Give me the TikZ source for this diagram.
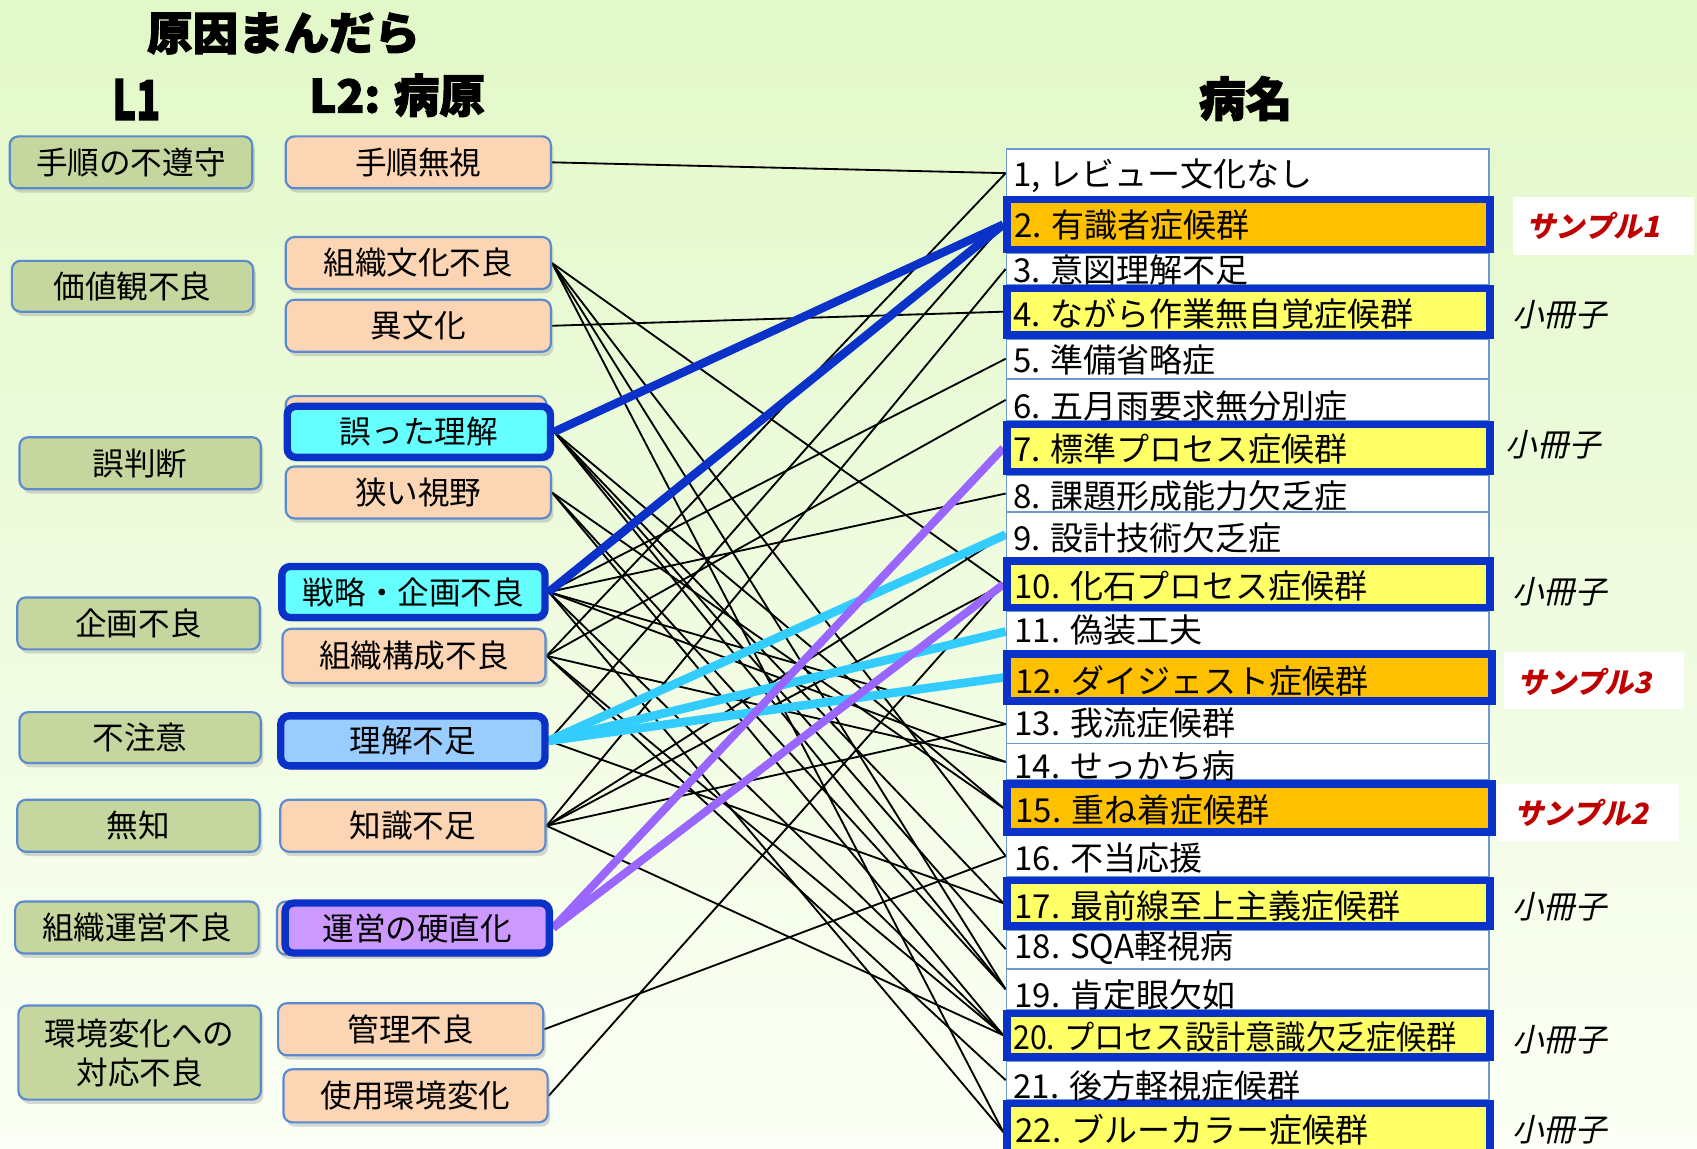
\documentclass[tikz,border=0pt]{standalone}
\usepackage{fontspec}
\usepackage{graphicx}
\setmainfont{Noto Sans CJK JP}
\newfontfamily\popfont[FakeBold=2.5]{Noto Sans CJK JP}
\newfontfamily\slfont[FakeSlant=0.22]{Noto Sans CJK JP}
\usetikzlibrary{shadows}
\pgfdeclarelayer{back}
\pgfdeclarelayer{lines}
\pgfsetlayers{back,lines,main}
\definecolor{bgtop}{HTML}{E2F8C8}
\definecolor{bgbot}{HTML}{FBFFF5}
\definecolor{lonefill}{HTML}{C5D69E}
\definecolor{peach}{HTML}{FCD5B4}
\definecolor{thinblue}{HTML}{5B8ACD}
\definecolor{hotblue}{HTML}{0A32C8}
\definecolor{cyanfill}{HTML}{66FFFF}
\definecolor{lbluefill}{HTML}{99CCFF}
\definecolor{purpfill}{HTML}{CC99FF}
\definecolor{orangefill}{HTML}{FFC000}
\definecolor{yellowfill}{HTML}{FFFF66}
\definecolor{rowline}{HTML}{7098D0}
\definecolor{cyanline}{HTML}{33CCFF}
\definecolor{purpline}{HTML}{9966FF}
\definecolor{sampred}{HTML}{C00000}
\newcommand{\boxfont}{\fontsize{14.6pt}{18pt}\selectfont}
\newcommand{\rowfont}{\fontsize{15.25pt}{18pt}\selectfont}
\newcommand{\rbox}[7]{\node[#1,minimum width={(#5-#3)*0.5pt},minimum height={(#6-#4)*0.5pt}] (#2) at ({(#3+#5)/2},{(#4+#6)/2}) {#7};}
\newcommand{\tbox}[7]{\node[#1,minimum width={(#5-#3-6.8)*0.5pt},minimum height={(#6-#4-6.8)*0.5pt}] (#2) at ({(#3+#5)/2},{(#4+#6)/2}) {#7};}
\tikzset{
  basebox/.style={inner sep=0pt, align=center, rounded corners=4pt, font=\boxfont,
    drop shadow={shadow xshift=1.2pt, shadow yshift=-2pt, opacity=0.3}},
  lone/.style={basebox, fill=lonefill, draw=thinblue, line width=1pt},
  ltwo/.style={basebox, fill=peach, draw=thinblue, line width=1pt},
  lhot/.style={basebox, draw=hotblue, line width=3.4pt},
  wrow/.style={inner sep=0pt, fill=white, draw=rowline, line width=0.8pt},
  orow/.style={inner sep=0pt, fill=orangefill, draw=hotblue, line width=3.4pt},
  yrow/.style={inner sep=0pt, fill=yellowfill, draw=hotblue, line width=3.4pt},
  rowtext/.style={anchor=west, inner sep=0pt, font=\rowfont},
  conn/.style={line width=0.85pt, black},
  bluelink/.style={line width=3.9pt, hotblue},
  cyanlink/.style={line width=4pt, cyanline},
  purplink/.style={line width=3.7pt, purpline},
  sampbox/.style={inner sep=0pt, fill=white},
  samptext/.style={anchor=west, inner sep=0pt, text=sampred, font=\slfont\bfseries\fontsize{13.5pt}{16pt}\selectfont},
  booklet/.style={anchor=west, inner sep=0pt, font=\slfont\fontsize{14.6pt}{16pt}\selectfont},
  headtext/.style={inner sep=0pt, font=\popfont\bfseries\fontsize{21pt}{24pt}\selectfont}
}
\begin{document}
\begin{tikzpicture}[x=0.5pt,y=-0.5pt]
\useasboundingbox (0,0) rectangle (1568,1061);
\begin{pgfonlayer}{back}
\shade[top color=bgtop,bottom color=bgbot] (0,0) rectangle (1568,1061);
\end{pgfonlayer}

% headings
\node[headtext] (title) at (262,31) {原因まんだら};
\node[headtext,font=\popfont\bfseries\fontsize{23pt}{26pt}\selectfont] (hlone) at (126,92) {\scalebox{0.8}[1.1]{L1}};
\node[headtext,font=\popfont\bfseries\fontsize{21pt}{24pt}\selectfont] (hltwo) at (367,88) {L2: 病原};
\node[headtext,font=\popfont\bfseries\fontsize{21.5pt}{24pt}\selectfont] (hname) at (1151,91) {病名};

% L1 boxes
\rbox{lone}{a1}{9}{126}{233}{174}{手順の不遵守}
\rbox{lone}{a2}{11}{241}{234}{288}{価値観不良}
\rbox{lone}{a3}{18}{404}{241}{452}{誤判断}
\rbox{lone}{a4}{16}{552}{240}{600}{企画不良}
\rbox{lone}{a5}{18}{658}{241}{705}{不注意}
\rbox{lone}{a6}{16}{739}{240}{787}{無知}
\rbox{lone}{a7}{14}{833}{239}{881}{組織運営不良}
\rbox{lone}{a8}{17}{929}{241}{1016}{環境変化への\\対応不良}

% L2 boxes
\rbox{ltwo}{b1}{264}{126}{509}{174}{手順無視}
\rbox{ltwo}{b2}{264}{219}{509}{267}{組織文化不良}
\rbox{ltwo}{b3}{264}{277}{509}{325}{異文化}
\rbox{ltwo}{b4back}{264}{366}{505}{420}{}
\tbox{lhot,fill=cyanfill}{b4}{262}{372}{512}{426}{誤った理解}
\rbox{ltwo}{b5}{264}{431}{509}{479}{狭い視野}
\tbox{lhot,fill=cyanfill}{b6}{257}{520}{507}{574}{戦略・企画不良}
\rbox{ltwo}{b7}{261}{581}{504}{631}{組織構成不良}
\tbox{lhot,fill=lbluefill}{b8}{256}{658}{507}{711}{理解不足}
\rbox{ltwo}{b9}{259}{739}{504}{787}{知識不足}
\rbox{ltwo}{b10back}{256}{833}{500}{882}{}
\tbox{lhot,fill=purpfill}{b10}{260}{831}{511}{884}{運営の硬直化}
\rbox{ltwo}{b11}{257}{927}{502}{975}{管理不良}
\rbox{ltwo}{b12}{262}{988}{506}{1037}{使用環境変化}

% disease list: plain rows
\rbox{wrow}{r1}{930}{138}{1376}{182}{}
\rbox{wrow}{r3}{930}{234}{1376}{263}{}
\rbox{wrow}{r5}{930}{313}{1376}{350}{}
\rbox{wrow}{r6}{930}{350}{1376}{389}{}
\rbox{wrow}{r8}{930}{439}{1376}{473}{}
\rbox{wrow}{r9}{930}{473}{1376}{515}{}
\rbox{wrow}{r11}{930}{565}{1376}{602}{}
\rbox{wrow}{r13}{930}{651}{1376}{687}{}
\rbox{wrow}{r14}{930}{687}{1376}{721}{}
\rbox{wrow}{r16}{930}{772}{1376}{810}{}
\rbox{wrow}{r18}{930}{859}{1376}{895}{}
\rbox{wrow}{r19}{930}{895}{1376}{933}{}
\rbox{wrow}{r21}{930}{980}{1376}{1016}{}
% highlighted rows
\tbox{orow}{r2}{927}{181}{1380}{234}{}
\tbox{yrow}{r4}{927}{263}{1380}{313}{}
\tbox{yrow}{r7}{927}{389}{1380}{439}{}
\tbox{yrow}{r10}{927}{515}{1380}{565}{}
\tbox{orow}{r12}{927}{601}{1382}{651}{}
\tbox{orow}{r15}{927}{721}{1382}{772}{}
\tbox{yrow}{r17}{927}{810}{1380}{859}{}
\tbox{yrow}{r20}{927}{933}{1380}{980}{}
\tbox{yrow}{r22}{927}{1016}{1380}{1076}{}

% row texts
\node[rowtext] (t1) at (936,162) {1, レビュー文化なし};
\node[rowtext] (t2) at (937,208) {2. 有識者症候群};
\node[rowtext] (t3) at (936,249) {3. 意図理解不足};
\node[rowtext] (t4) at (936,290) {4. ながら作業無自覚症候群};
\node[rowtext] (t5) at (936,333) {5. 準備省略症};
\node[rowtext] (t6) at (936,375) {6. 五月雨要求無分別症};
\node[rowtext] (t7) at (936,415) {7. 標準プロセス症候群};
\node[rowtext] (t8) at (936,458) {8. 課題形成能力欠乏症};
\node[rowtext] (t9) at (936,497) {9. 設計技術欠乏症};
\node[rowtext] (t10) at (937,541) {10. 化石プロセス症候群};
\node[rowtext] (t11) at (937,582) {11. 偽装工夫};
\node[rowtext] (t12) at (938,629) {12. ダイジェスト症候群};
\node[rowtext] (t13) at (937,668) {13. 我流症候群};
\node[rowtext] (t14) at (937,708) {14. せっかち病};
\node[rowtext] (t15) at (938,748) {15. 重ね着症候群};
\node[rowtext] (t16) at (937,793) {16. 不当応援};
\node[rowtext] (t17) at (937,837) {17. 最前線至上主義症候群};
\node[rowtext] (t18) at (937,876) {18. SQA軽視病};
\node[rowtext] (t19) at (937,919) {19. 肯定眼欠如};
\node[rowtext] (t20) at (936,958) {\scalebox{0.915}[1]{20. プロセス設計意識欠乏症候群}};
\node[rowtext] (t21) at (936,1003) {21. 後方軽視症候群};
\node[rowtext] (t22) at (938,1044) {22. ブルーカラー症候群};

% side labels
\rbox{sampbox}{s1}{1398}{182}{1565}{236}{}
\node[samptext] (s1t) at (1410,209) {サンプル1};
\rbox{sampbox}{s3}{1390}{602}{1556}{655}{}
\node[samptext] (s3t) at (1402,630) {サンプル3};
\rbox{sampbox}{s2}{1383}{724}{1551}{777}{}
\node[samptext] (s2t) at (1399,751) {サンプル2};
\node[booklet] (k4) at (1397,291) {小冊子};
\node[booklet] (k7) at (1391,411) {小冊子};
\node[booklet] (k10) at (1397,547) {小冊子};
\node[booklet] (k17) at (1397,838) {小冊子};
\node[booklet] (k20) at (1397,961) {小冊子};
\node[booklet] (k22) at (1397,1044) {小冊子};

% connectors
\begin{pgfonlayer}{lines}
\foreach \a/\b in {b1/r1, b2/r10, b2/r16, b2/r19, b2/r22, b3/r4,
  b4/r15, b4/r17, b4/r18, b4/r19,
  b5/r15, b5/r19, b5/r20,
  b6/r5, b6/r8, b6/r13, b6/r14, b6/r20, b6/r22,
  b7/r1, b7/r6, b7/r14, b7/r20, b7/r21,
  b8/r2, b8/r17,
  b9/r3, b9/r9, b9/r10, b9/r13, b9/r20,
  b11/r16, b12/r10}
  \draw[conn] (\a.east) -- (\b.west);
\foreach \b in {r9,r11,r12}
  \draw[cyanlink] (b8.east) -- (\b.west);
\draw[purplink] (b10.east) -- (r7.west);
\draw[purplink] (b10.east) -- (r10.west);
\draw[bluelink] (b4.east) -- (r2.west);
\draw[bluelink] (b6.east) -- (r2.west);
\end{pgfonlayer}
\end{tikzpicture}
\end{document}
